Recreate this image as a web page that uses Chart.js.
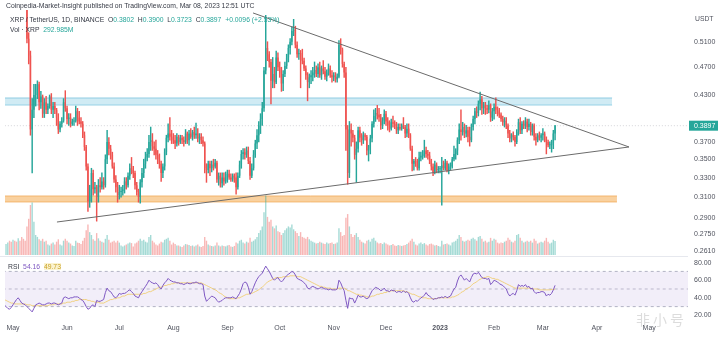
<!DOCTYPE html>
<html>
<head>
<meta charset="utf-8">
<script src="https://cdn.jsdelivr.net/npm/chart.js@4.4.1/dist/chart.umd.min.js"></script>
<style>
  html, body { margin: 0; padding: 0; background: #fff; }
  #wrap { position: relative; width: 718px; height: 338px; overflow: hidden; font-family: "Liberation Sans", Arial, sans-serif; }
  #priceCanvas { position: absolute; left: 0; top: 0; }
  #rsiCanvas { position: absolute; left: 0; top: 256px; }
  .t { position: absolute; white-space: nowrap; font-size: 6.8px; color: #363a45; line-height: 1; }
  .up { color: #26a69a; }
  #sep { position: absolute; left: 0; top: 256px; width: 688px; height: 1px; background: #e6e8ee; }
  #mark { position: absolute; left: 636px; top: 309px; font-family: "Noto Sans CJK SC", sans-serif; font-size: 14px; color: rgba(140,140,140,0.3); letter-spacing: 3px; }
</style>
</head>
<body>
<div id="wrap">
  <canvas id="priceCanvas" width="718" height="256"></canvas>
  <canvas id="rsiCanvas" width="718" height="82"></canvas>
  <div id="sep"></div>
  <div class="t" id="pub" style="left:6px;top:3px;">Coinpedia-Market-Insight published on TradingView.com, Mar 08, 2023 12:51 UTC</div>
  <div class="t" id="ohlc" style="left:10px;top:17px;"></div>
  <div class="t" id="vol" style="left:10px;top:27px;"></div>
  <div class="t" style="left:695px;top:16px;color:#50535e;">USDT</div>
  <div class="t" id="rsiLegend" style="left:8px;top:264px;"></div>
  <div id="mark">非小号</div>
</div>
<script>
// XRP / TetherUS daily candles, Binance, 2022-04-26 .. 2023-03-08
const firstDate = '2022-04-26';

const opens = [
  .650,.615,.632,.640,.610,.595,.620,.615,.601,.640,
  .598,.585,.575,.570,.515,.488,.385,.410,.430,.438,
  .445,.420,.428,.405,.420,.410,.415,.428,.410,.415,
  .410,.400,.385,.392,.396,.420,.412,.398,.400,.392,
  .395,.396,.408,.400,.395,.392,.378,.364,.342,.306,
  .318,.335,.318,.320,.310,.322,.320,.326,.322,.350,
  .370,.362,.355,.342,.328,.320,.312,.315,.316,.318,
  .326,.322,.332,.340,.338,.335,.322,.315,.310,.325,
  .335,.345,.352,.356,.370,.372,.365,.362,.355,.350,
  .345,.335,.342,.358,.375,.380,.376,.375,.372,.368,
  .376,.370,.375,.372,.370,.380,.372,.380,.376,.382,
  .378,.380,.374,.376,.372,.368,.340,.338,.345,.340,
  .344,.342,.346,.328,.332,.324,.330,.326,.332,.334,
  .330,.328,.332,.330,.320,.332,.344,.356,.358,.355,
  .360,.348,.332,.340,.355,.368,.378,.390,.398,.412,
  .465,.500,.490,.478,.450,.460,.448,.485,.470,.460,
  .446,.460,.472,.485,.500,.510,.528,.530,.505,.490,
  .492,.485,.480,.468,.458,.448,.455,.458,.462,.466,
  .460,.470,.458,.468,.464,.456,.462,.468,.458,.455,
  .458,.452,.456,.505,.498,.475,.462,.385,.335,.385,
  .380,.375,.355,.362,.384,.375,.372,.378,.376,.360,
  .362,.374,.392,.402,.406,.404,.400,.390,.396,.405,
  .395,.390,.386,.394,.392,.390,.384,.388,.386,.390,
  .388,.380,.386,.378,.362,.345,.348,.346,.340,.352,
  .354,.354,.360,.356,.354,.348,.342,.336,.344,.338,
  .339,.340,.343,.340,.346,.338,.342,.342,.350,.356,
  .360,.372,.385,.382,.388,.380,.384,.376,.372,.388,
  .398,.408,.406,.418,.424,.412,.416,.412,.410,.416,
  .400,.408,.414,.410,.408,.404,.398,.394,.396,.390,
  .380,.374,.378,.376,.370,.382,.394,.384,.392,.390,
  .395,.388,.392,.382,.390,.376,.372,.378,.375,.378,
  .380,.374,.370,.366,.366,.368,.3802
];
const highs = [
  .655,.640,.645,.645,.620,.625,.632,.620,.645,.648,
  .600,.590,.580,.574,.525,.495,.425,.445,.445,.450,
  .448,.435,.430,.425,.428,.418,.430,.432,.420,.420,
  .412,.405,.395,.400,.425,.436,.415,.405,.405,.398,
  .400,.415,.412,.408,.400,.395,.382,.366,.345,.322,
  .340,.338,.325,.322,.328,.330,.335,.330,.355,.384,
  .375,.366,.358,.346,.332,.325,.322,.320,.322,.330,
  .330,.335,.345,.352,.342,.337,.325,.318,.328,.340,
  .350,.358,.362,.378,.388,.380,.370,.372,.360,.356,
  .348,.345,.362,.378,.392,.400,.384,.380,.378,.380,
  .378,.378,.378,.376,.385,.382,.384,.386,.384,.388,
  .393,.386,.380,.380,.376,.370,.345,.348,.348,.348,
  .350,.350,.348,.335,.335,.335,.335,.336,.338,.338,
  .334,.334,.334,.335,.335,.348,.360,.362,.362,.364,
  .364,.352,.345,.360,.372,.385,.395,.405,.420,.470,
  .555,.510,.494,.482,.485,.470,.495,.492,.478,.470,
  .465,.478,.490,.505,.515,.535,.548,.536,.510,.498,
  .496,.498,.484,.472,.462,.460,.465,.470,.478,.472,
  .475,.478,.472,.480,.470,.466,.475,.472,.465,.462,
  .462,.460,.512,.515,.500,.478,.470,.390,.395,.392,
  .384,.378,.370,.388,.388,.380,.382,.380,.378,.366,
  .378,.395,.410,.412,.416,.412,.404,.400,.410,.408,
  .400,.396,.398,.402,.396,.394,.392,.392,.392,.400,
  .390,.392,.392,.380,.365,.350,.352,.350,.358,.358,
  .360,.372,.364,.360,.358,.350,.345,.348,.346,.342,
  .342,.352,.348,.350,.348,.345,.346,.352,.365,.362,
  .375,.392,.410,.394,.392,.390,.388,.388,.392,.402,
  .412,.414,.422,.434,.428,.420,.420,.416,.422,.418,
  .412,.418,.426,.414,.412,.406,.402,.400,.400,.392,
  .384,.380,.382,.378,.385,.398,.400,.395,.396,.400,
  .398,.398,.394,.392,.392,.380,.380,.382,.380,.386,
  .382,.376,.372,.370,.372,.384,.3900
];
const lows = [
  .610,.612,.625,.605,.590,.590,.605,.598,.598,.590,
  .575,.570,.566,.508,.475,.378,.335,.400,.415,.425,
  .410,.412,.400,.400,.405,.405,.412,.405,.400,.405,
  .390,.380,.382,.388,.394,.408,.392,.390,.388,.390,
  .390,.394,.390,.392,.388,.375,.360,.338,.296,.300,
  .305,.312,.314,.287,.305,.315,.318,.318,.320,.345,
  .355,.350,.340,.325,.315,.305,.308,.310,.312,.314,
  .318,.320,.328,.334,.330,.318,.312,.305,.304,.320,
  .330,.340,.348,.352,.360,.360,.355,.350,.345,.340,
  .326,.330,.338,.355,.370,.372,.368,.368,.362,.365,
  .366,.368,.368,.365,.368,.368,.366,.374,.372,.374,
  .374,.370,.368,.368,.365,.335,.325,.335,.332,.336,
  .338,.340,.325,.322,.320,.320,.322,.324,.325,.328,
  .326,.326,.325,.313,.318,.330,.340,.350,.350,.352,
  .345,.328,.330,.338,.352,.362,.370,.380,.390,.408,
  .460,.480,.470,.418,.440,.440,.446,.465,.455,.435,
  .436,.456,.468,.478,.490,.505,.520,.500,.485,.482,
  .440,.475,.465,.452,.422,.440,.446,.450,.455,.456,
  .455,.455,.452,.460,.452,.450,.458,.455,.448,.450,
  .448,.448,.454,.490,.470,.455,.360,.323,.330,.365,
  .370,.350,.325,.358,.370,.366,.368,.372,.355,.348,
  .356,.370,.388,.395,.398,.395,.385,.386,.392,.390,
  .384,.382,.384,.388,.386,.380,.380,.384,.384,.386,
  .375,.376,.375,.360,.337,.338,.342,.338,.338,.348,
  .350,.352,.352,.350,.345,.338,.332,.334,.335,.335,
  .335,.302,.338,.338,.336,.334,.338,.340,.348,.350,
  .355,.368,.372,.378,.375,.376,.370,.365,.370,.384,
  .392,.400,.402,.410,.404,.405,.404,.405,.406,.395,
  .396,.398,.405,.402,.400,.395,.390,.388,.386,.375,
  .370,.370,.372,.365,.368,.378,.380,.380,.386,.386,
  .382,.384,.378,.378,.372,.366,.370,.372,.370,.372,
  .370,.356,.364,.362,.358,.362,.3723
];
const closes = [
  .615,.632,.640,.610,.595,.620,.615,.601,.640,.598,
  .585,.575,.570,.515,.488,.385,.410,.430,.438,.445,
  .420,.428,.405,.420,.410,.415,.428,.410,.415,.410,
  .400,.385,.392,.396,.420,.412,.398,.400,.392,.395,
  .396,.408,.400,.395,.392,.378,.364,.342,.306,.318,
  .335,.318,.320,.310,.322,.320,.326,.322,.350,.370,
  .362,.355,.342,.328,.320,.312,.315,.316,.318,.326,
  .322,.332,.340,.338,.335,.322,.315,.310,.325,.335,
  .345,.352,.356,.370,.372,.365,.362,.355,.350,.345,
  .335,.342,.358,.375,.380,.376,.375,.372,.368,.376,
  .370,.375,.372,.370,.380,.372,.380,.376,.382,.378,
  .380,.374,.376,.372,.368,.340,.338,.345,.340,.344,
  .342,.346,.328,.332,.324,.330,.326,.332,.334,.330,
  .328,.332,.330,.320,.332,.344,.356,.358,.355,.360,
  .348,.332,.340,.355,.368,.378,.390,.398,.412,.465,
  .500,.490,.478,.450,.460,.448,.485,.470,.460,.446,
  .460,.472,.485,.500,.510,.528,.530,.505,.490,.492,
  .485,.480,.468,.458,.448,.455,.458,.462,.466,.460,
  .470,.458,.468,.464,.456,.462,.468,.458,.455,.458,
  .452,.456,.505,.498,.475,.462,.385,.335,.385,.380,
  .375,.355,.362,.384,.375,.372,.378,.376,.360,.362,
  .374,.392,.402,.406,.404,.400,.390,.396,.405,.395,
  .390,.386,.394,.392,.390,.384,.388,.386,.390,.388,
  .380,.386,.378,.362,.345,.348,.346,.340,.352,.354,
  .354,.360,.356,.354,.348,.342,.336,.344,.338,.339,
  .340,.343,.340,.346,.338,.342,.342,.350,.356,.360,
  .372,.385,.382,.388,.380,.384,.376,.372,.388,.398,
  .408,.406,.418,.424,.412,.416,.412,.410,.416,.400,
  .408,.414,.410,.408,.404,.398,.394,.396,.390,.380,
  .374,.378,.376,.370,.382,.394,.384,.392,.390,.395,
  .388,.392,.382,.390,.376,.372,.378,.375,.378,.380,
  .374,.370,.366,.366,.368,.3801,.3897
];
// daily volume, millions of XRP
const volumes = [
  250,230,260,300,280,320,300,280,350,300,
  380,340,300,600,760,1050,1100,700,420,380,
  330,300,340,280,300,220,200,240,260,220,
  280,330,220,200,300,340,300,260,240,200,
  190,300,260,250,230,300,360,520,640,480,
  420,330,300,460,350,300,280,260,340,420,
  320,260,280,300,260,300,260,200,180,200,
  220,240,260,250,180,240,260,300,340,300,
  320,280,260,380,420,300,260,220,200,240,
  280,260,320,340,360,300,220,260,230,200,
  200,180,170,200,230,220,210,190,200,180,
  200,220,180,170,190,380,300,220,200,190,
  180,200,260,200,180,200,190,180,200,210,
  180,170,190,260,240,300,320,260,240,280,
  260,360,280,300,330,380,460,520,600,900,
  1250,800,700,740,600,560,620,500,480,420,
  460,520,560,600,580,640,540,500,460,400,
  480,380,360,340,380,330,300,280,260,240,
  250,280,260,240,230,260,240,250,260,230,
  240,260,560,480,400,420,780,860,600,440,
  380,420,460,380,320,280,260,240,300,320,
  280,340,360,300,260,240,250,230,260,240,
  220,200,210,230,200,190,210,200,190,200,
  210,230,260,300,340,280,220,200,240,260,
  230,250,220,200,230,240,220,200,210,190,
  180,300,220,230,240,220,200,260,280,300,
  340,420,380,300,280,300,320,300,340,360,
  330,300,380,400,340,280,300,260,280,360,
  300,340,320,260,240,260,250,280,300,360,
  320,280,260,300,420,440,360,300,260,280,
  300,280,300,260,340,300,240,260,280,260,
  300,360,280,240,260,320,292.985
];
// RSI(14) and its moving average
const rsi = [
  32,30,28,27,29,32,35,38,40,37,
  34,33,32,30,28,26,24,28,32,33,
  34,33,32,32,33,34,34,33,34,34,
  33,32,33,34,40,41,40,39,40,40,
  41,41,41,40,38,37,34,30,27,28,
  31,32,30,37,36,36,37,38,46,51,
  48,47,44,41,40,42,45,44,45,45,
  46,48,49,47,45,42,41,40,44,47,
  50,53,56,60,58,57,56,57,55,52,
  50,54,57,59,62,60,59,58,58,57,
  57,56,56,55,56,57,56,56,57,57,
  58,57,56,56,55,42,36,38,40,42,
  41,40,37,35,36,37,39,40,40,40,
  40,41,40,39,42,45,50,56,58,57,
  52,44,47,52,57,61,64,66,68,72,
  76,73,70,66,62,60,62,63,60,58,
  60,63,65,67,68,70,69,66,62,61,
  60,59,57,55,51,50,52,53,52,51,
  50,51,52,51,50,50,49,50,49,49,
  49,50,60,57,52,48,37,28,40,39,
  39,34,38,43,41,41,42,40,39,40,
  44,48,50,52,51,50,48,49,51,48,
  48,47,49,48,48,46,47,47,46,48,
  46,47,45,40,36,35,37,36,38,40,
  41,43,46,43,42,40,38,39,39,40,
  40,41,40,42,40,41,42,46,50,52,
  59,64,66,63,60,62,60,58,63,67,
  68,67,69,66,63,62,62,61,62,55,
  57,60,59,58,56,55,54,52,50,45,
  42,44,45,43,48,55,53,54,53,55,
  52,53,50,51,47,45,46,46,47,47,
  46,42,44,43,45,49,54.16
];
const rsiMa = [
  38,37,36,35,34,34,33,33,33,33,
  33,33,33,32,32,32,31,31,31,31,
  31,31,31,31,31,31,32,32,32,33,
  33,33,33,33,34,34,35,35,35,36,
  36,37,37,38,38,38,38,38,37,37,
  36,36,35,35,35,34,34,34,35,36,
  37,38,38,39,39,40,40,41,42,42,
  43,44,44,44,44,44,44,44,44,44,
  45,45,46,47,47,48,49,50,51,52,
  52,53,54,54,55,55,56,56,57,57,
  57,57,57,57,57,57,57,57,57,57,
  57,57,57,57,56,55,54,53,52,51,
  50,49,48,46,45,44,42,41,40,39,
  39,39,39,39,40,40,41,42,43,44,
  44,45,45,46,47,48,49,51,52,54,
  56,58,59,60,61,62,63,63,63,63,
  64,64,64,64,65,65,65,65,64,64,
  64,63,62,61,60,59,58,57,56,55,
  54,53,53,52,52,51,51,51,50,50,
  50,50,51,51,51,51,50,48,48,47,
  46,45,44,44,43,43,42,42,41,41,
  41,42,42,43,44,44,45,45,46,46,
  47,47,48,48,48,48,48,48,48,48,
  47,47,46,45,44,44,43,42,41,41,
  40,40,40,39,39,39,39,39,39,40,
  40,40,40,40,40,40,40,41,41,42,
  43,44,46,47,48,50,51,52,54,56,
  57,58,60,61,62,63,63,64,64,63,
  62,62,61,61,60,59,58,57,56,55,
  54,53,52,51,51,51,51,51,51,51,
  51,51,51,50,50,50,50,49,49,49,
  49,49,49,49,49.5,49.6,49.73
];
const rsiLevels = [70, 50, 30];

// axis labels
const priceTicks = [0.51, 0.47, 0.43, 0.37, 0.35, 0.33, 0.31, 0.29, 0.275, 0.261];
const rsiTicks = [80, 60, 40, 20];
const monthTickDates = ['2022-05-01','2022-06-01','2022-07-01','2022-08-01','2022-09-01','2022-10-01',
  '2022-11-01','2022-12-01','2023-01-01','2023-02-01','2023-03-01','2023-04-01','2023-05-01'];
const monthTickLabels = ['May','Jun','Jul','Aug','Sep','Oct','Nov','Dec','2023','Feb','Mar','Apr','May'];

// drawings: support / resistance zones and the triangle trend lines (time, price)
const resistanceZone = { from: '2022-04-01', to: '2023-04-09T17:00:00Z', low: 0.4164, high: 0.4259 };
const supportZone = { from: '2022-04-01', to: '2023-04-12T12:00:00Z', low: 0.3052, high: 0.3111 };
const upperTrend = [['2022-09-15T17:00:00Z', 0.5593], ['2023-04-19T10:00:00Z', 0.3640]];
const lowerTrend = [['2022-05-26T05:00:00Z', 0.2862], ['2023-04-19T10:00:00Z', 0.3640]];

// ---------------------------------------------------------------------------
const DAY = 86400000;
const t0 = Date.parse(firstDate + 'T00:00:00Z');
const dayOf = s => (Date.parse(s.length === 10 ? s + 'T00:00:00Z' : s) - t0) / DAY;
const N = closes.length;
const last = N - 1;
const viewFrom = 0.41, viewTo = 392.26;

const UP = '#26a69a', DOWN = '#ef5350';
const isUp = i => closes[i] >= opens[i];
const candleColor = closes.map((c, i) => isUp(i) ? UP : DOWN);
const volColor = closes.map((c, i) => isUp(i) ? 'rgba(38,166,154,0.42)' : 'rgba(239,83,80,0.42)');

const wickData = closes.map((c, i) => ({ x: i, y: [lows[i], highs[i]] }));
const bodyData = closes.map((c, i) => ({ x: i, y: [Math.min(opens[i], c), Math.max(opens[i], c)] }));
const volData = volumes.map((v, i) => ({ x: i, y: v }));
const rsiData = rsi.map((v, i) => ({ x: i, y: v }));
const rsiMaData = rsiMa.map((v, i) => ({ x: i, y: v }));

const seg = (a, b, y) => [{ x: dayOf(a), y }, { x: dayOf(b), y }];
const trend = pts => pts.map(([d, p]) => ({ x: dayOf(d), y: p }));

Chart.defaults.font.family = '"Liberation Sans", Arial, sans-serif';
Chart.defaults.animation = false;
Chart.defaults.events = [];

const AXIS_W = 30;
// right-hand value axes: fixed width, labels allowed to overhang the pane edges
const fixWidth = s => { s.width = AXIS_W; s.paddingTop = 0; s.paddingBottom = 0; };

// current price marker on the price axis
const lastPriceTag = {
  id: 'lastPriceTag',
  afterDraw(chart) {
    const y = chart.scales.y.getPixelForValue(closes[last]);
    const ctx = chart.ctx;
    ctx.save();
    ctx.fillStyle = UP;
    ctx.fillRect(chart.chartArea.right + 1, y - 5, 29, 10);
    ctx.fillStyle = '#fff';
    ctx.font = '7px "Liberation Sans", Arial, sans-serif';
    ctx.textBaseline = 'middle';
    ctx.fillText(closes[last].toFixed(4), chart.chartArea.right + 6, y + 0.5);
    ctx.restore();
  }
};

new Chart(document.getElementById('priceCanvas'), {
  type: 'bar',
  data: {
    datasets: [
      { type: 'line', data: seg(resistanceZone.from, resistanceZone.to, resistanceZone.high),
        fill: { value: resistanceZone.low }, backgroundColor: 'rgba(150,210,230,0.45)',
        borderColor: 'rgba(110,190,220,0.7)', borderWidth: 1, pointRadius: 0, order: 10 },
      { type: 'line', data: seg(resistanceZone.from, resistanceZone.to, resistanceZone.low),
        fill: false, borderColor: 'rgba(110,190,220,0.7)', borderWidth: 1, pointRadius: 0, order: 10 },
      { type: 'line', data: seg(supportZone.from, supportZone.to, supportZone.high),
        fill: { value: supportZone.low }, backgroundColor: 'rgba(245,178,95,0.6)',
        borderColor: 'rgba(240,170,90,0.8)', borderWidth: 1, pointRadius: 0, order: 10 },
      { type: 'line', data: seg(supportZone.from, supportZone.to, supportZone.low),
        fill: false, borderColor: 'rgba(240,170,90,0.8)', borderWidth: 1, pointRadius: 0, order: 10 },
      { type: 'line', data: [{ x: -10, y: closes[last] }, { x: 400, y: closes[last] }],
        borderColor: 'rgba(160,160,170,0.45)', borderWidth: 1, borderDash: [1, 2], pointRadius: 0, fill: false, order: 9 },
      { type: 'bar', data: volData, yAxisID: 'yv', backgroundColor: volColor,
        grouped: false, barPercentage: 1, categoryPercentage: 0.8, order: 8 },
      { type: 'bar', data: wickData, backgroundColor: candleColor,
        grouped: false, barPercentage: 1, categoryPercentage: 1, maxBarThickness: 0.8, order: 3 },
      { type: 'bar', data: bodyData, backgroundColor: candleColor, minBarLength: 1,
        grouped: false, barPercentage: 1, categoryPercentage: 0.8, order: 2 },
      { type: 'line', data: trend(upperTrend), borderColor: '#6b6b6b', borderWidth: 1, pointRadius: 0, fill: false, order: 1 },
      { type: 'line', data: trend(lowerTrend), borderColor: '#6b6b6b', borderWidth: 1, pointRadius: 0, fill: false, order: 1 }
    ]
  },
  options: {
    responsive: false,
    layout: { padding: { top: 10, left: 5, right: 0, bottom: 1 } },
    plugins: { legend: { display: false }, tooltip: { enabled: false } },
    scales: {
      x: { type: 'linear', min: viewFrom, max: viewTo, offset: false, display: false },
      y: {
        type: 'logarithmic', position: 'right', min: 0.2575, max: 0.5646,
        grid: { display: false, drawTicks: false }, border: { display: false },
        afterBuildTicks: s => { s.ticks = priceTicks.map(v => ({ value: v })); },
        afterFit: fixWidth,
        ticks: { autoSkip: false, padding: 6, color: '#50535e', font: { size: 7 },
          callback: v => Number(v).toFixed(4) }
      },
      yv: { type: 'linear', display: false, min: 0, max: 5145, position: 'left' }
    }
  },
  plugins: [lastPriceTag]
});

new Chart(document.getElementById('rsiCanvas'), {
  type: 'line',
  data: {
    datasets: [
      { data: seg('2022-04-01', '2023-06-01', rsiLevels[0]), fill: { value: rsiLevels[2] },
        backgroundColor: 'rgba(126,87,194,0.1)', borderColor: 'rgba(120,123,150,0.55)',
        borderWidth: 1, borderDash: [3, 3], pointRadius: 0, order: 10 },
      { data: seg('2022-04-01', '2023-06-01', rsiLevels[1]), fill: false,
        borderColor: 'rgba(120,123,150,0.45)', borderWidth: 1, borderDash: [3, 3], pointRadius: 0, order: 9 },
      { data: seg('2022-04-01', '2023-06-01', rsiLevels[2]), fill: false,
        borderColor: 'rgba(120,123,150,0.55)', borderWidth: 1, borderDash: [3, 3], pointRadius: 0, order: 9 },
      { data: rsiMaData, borderColor: 'rgba(240,200,90,0.75)', borderWidth: 1, pointRadius: 0, fill: false, order: 2 },
      { data: rsiData, borderColor: '#7e57c2', borderWidth: 1, pointRadius: 0, fill: false, order: 1 }
    ]
  },
  options: {
    responsive: false,
    layout: { padding: { top: 1, left: 5, right: 0, bottom: 0 } },
    plugins: { legend: { display: false }, tooltip: { enabled: false } },
    scales: {
      x: {
        type: 'linear', min: viewFrom, max: viewTo, offset: false, position: 'bottom',
        grid: { display: false, drawTicks: false }, border: { display: false },
        afterBuildTicks: s => { s.ticks = monthTickDates.map(d => ({ value: dayOf(d) })); },
        afterFit: s => { s.height = 18; s.paddingLeft = 0; s.paddingRight = 0; },
        ticks: {
          autoSkip: false, maxRotation: 0, padding: 4, color: '#50535e',
          font: c => ({ size: 7, weight: (c.index === 8) ? 'bold' : 'normal' }),
          callback: (v, i) => monthTickLabels[i]
        }
      },
      y: {
        type: 'linear', position: 'right', min: 14.77, max: 86.36,
        grid: { display: false, drawTicks: false }, border: { display: false },
        afterBuildTicks: s => { s.ticks = rsiTicks.map(v => ({ value: v })); },
        afterFit: fixWidth,
        ticks: { autoSkip: false, padding: 6, color: '#50535e', font: { size: 7 },
          callback: v => Number(v).toFixed(2) }
      }
    }
  }
});

// legends built from the last bar
const f4 = v => v.toFixed(4);
const chg = closes[last] - closes[last - 1];
const pct = chg / closes[last - 1] * 100;
const sign = chg >= 0 ? '+' : '';
document.getElementById('ohlc').innerHTML =
  'XRP / TetherUS, 1D, BINANCE&nbsp; O<span class="up">' + f4(opens[last]) + '</span>&nbsp; H<span class="up">' +
  f4(highs[last]) + '</span>&nbsp; L<span class="up">' + f4(lows[last]) + '</span>&nbsp; C<span class="up">' +
  f4(closes[last]) + '</span>&nbsp; <span class="up">' + sign + f4(chg) + ' (' + sign + pct.toFixed(2) + '%)</span>';
document.getElementById('vol').innerHTML =
  'Vol · XRP&nbsp; <span class="up">' + volumes[last].toFixed(3) + 'M</span>';
document.getElementById('rsiLegend').innerHTML =
  'RSI&nbsp; <span style="color:#7e57c2">' + rsi[last].toFixed(2) + '</span>&nbsp; ' +
  '<span style="color:#c9a227;background:#fbf3d0">' + rsiMa[last].toFixed(2) + '</span>';
</script>
</body>
</html>
